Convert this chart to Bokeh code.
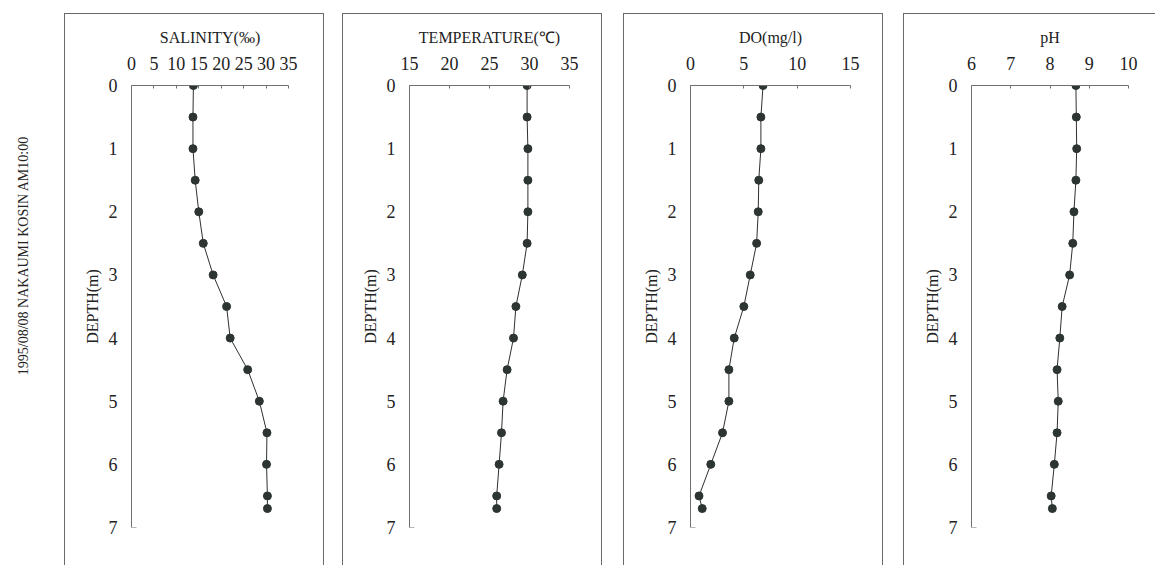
import math

from bokeh.embed import file_html
from bokeh.layouts import column, row
from bokeh.models import FixedTicker, Label, Range1d, Spacer
from bokeh.plotting import figure
from bokeh.resources import INLINE

# Vertical profile, Nakaumi (Kosin), 1995-08-08 10:00
depth = [0, 0.5, 1, 1.5, 2, 2.5, 3, 3.5, 4, 4.5, 5, 5.5, 6, 6.5, 6.7]
salinity = [13.8, 13.7, 13.7, 14.2, 15.0, 16.0, 18.2, 21.2, 22.0, 25.9, 28.5, 30.2, 30.1, 30.3, 30.3]
temperature = [29.7, 29.7, 29.8, 29.8, 29.8, 29.7, 29.1, 28.3, 28.0, 27.2, 26.7, 26.5, 26.2, 25.9, 25.9]
dissolved_oxygen = [6.8, 6.6, 6.6, 6.4, 6.35, 6.2, 5.6, 5.0, 4.1, 3.6, 3.6, 3.0, 1.9, 0.8, 1.1]
ph = [8.66, 8.67, 8.68, 8.66, 8.61, 8.58, 8.50, 8.31, 8.25, 8.18, 8.21, 8.18, 8.11, 8.03, 8.06]

depth_ticks = [0, 1, 2, 3, 4, 5, 6, 7]
salinity_ticks = [0, 5, 10, 15, 20, 25, 30, 35]
temperature_ticks = [15, 20, 25, 30, 35]
do_ticks = [0, 5, 10, 15]
ph_ticks = [6, 7, 8, 9, 10]

titles = ["SALINITY(‰)", "TEMPERATURE(℃)", "DO(mg/l)", "pH"]
depth_label = "DEPTH(m)"
header = "1995/08/08 NAKAUMI KOSIN AM10:00"

FONT = "Liberation Serif"
TEXT = "#222222"
AXIS = "#707070"
BOX = "#6a6a6a"
MARK = "#2c3531"

PANEL_H = 552
FRAME_TOP = 71
FRAME_H = 441


def profile_panel(title, values, ticks, width, left, frame_w, right_border=True):
    p = figure(
        width=width, height=PANEL_H,
        x_range=Range1d(ticks[0], ticks[-1]),
        y_range=Range1d(depth_ticks[-1], depth_ticks[0]),
        x_axis_location="above",
        min_border_left=left, min_border_right=width - left - frame_w,
        min_border_top=FRAME_TOP, min_border_bottom=PANEL_H - 1 - FRAME_TOP - FRAME_H,
        output_backend="svg", toolbar_location=None,
    )
    p.grid.visible = False
    p.outline_line_color = None
    p.background_fill_color = None
    p.border_fill_color = "white"

    xa = p.xaxis[0]
    xa.ticker = FixedTicker(ticks=ticks)
    xa.axis_label = title
    xa.major_tick_in = 3
    xa.major_tick_out = 0
    xa.minor_tick_line_color = None
    xa.major_label_standoff = 16
    xa.axis_label_standoff = 8

    ya = p.yaxis[0]
    ya.ticker = FixedTicker(ticks=depth_ticks)
    ya.axis_label = depth_label
    ya.major_tick_in = 0
    ya.major_tick_out = 0
    ya.minor_tick_line_color = None
    ya.major_label_standoff = 14
    ya.axis_label_standoff = 5

    for ax in (xa, ya):
        ax.axis_line_color = AXIS
        ax.major_tick_line_color = AXIS
        ax.major_label_text_font = FONT
        ax.major_label_text_font_size = "18px"
        ax.major_label_text_color = TEXT
        ax.axis_label_text_font = FONT
        ax.axis_label_text_font_size = "16px"
        ax.axis_label_text_font_style = "normal"
        ax.axis_label_text_color = TEXT

    # short inward tick closing the depth axis
    p.ray(x=[ticks[0]], y=[depth_ticks[-1]], length=5, length_units="screen",
          angle=0, line_color=AXIS, line_width=1)

    p.line(values, depth, line_color="#303030", line_width=1)
    p.scatter(values, depth, size=8, marker="circle",
              fill_color=MARK, line_color=MARK)

    border = "1px solid " + BOX
    styles = {"border-left": border, "border-top": border}
    if right_border:
        styles["border-right"] = border
    p.styles = styles
    return p


p1 = profile_panel(titles[0], salinity, salinity_ticks, 260, 66, 157)
p2 = profile_panel(titles[1], temperature, temperature_ticks, 260, 66, 160)
p3 = profile_panel(titles[2], dissolved_oxygen, do_ticks, 260, 66, 160)
p4 = profile_panel(titles[3], ph, ph_ticks, 252, 67, 157, right_border=False)

head = figure(width=64, height=567, x_range=Range1d(0, 1), y_range=Range1d(0, 1),
              min_border_left=0, min_border_right=0, min_border_top=0, min_border_bottom=0,
              output_backend="svg", toolbar_location=None)
head.axis.visible = False
head.grid.visible = False
head.outline_line_color = None
head.add_layout(Label(x=0.355, y=0.55, text=header, angle=math.pi / 2,
                      text_align="center", text_baseline="middle",
                      text_font=FONT, text_font_size="14px",
                      text_color=TEXT))

panels = row([p1, Spacer(width=18), p2, Spacer(width=21), p3, Spacer(width=20), p4])
page = row([head, column([Spacer(height=13), panels])])

with open("out.html", "w") as f:
    f.write(file_html(page, INLINE))
